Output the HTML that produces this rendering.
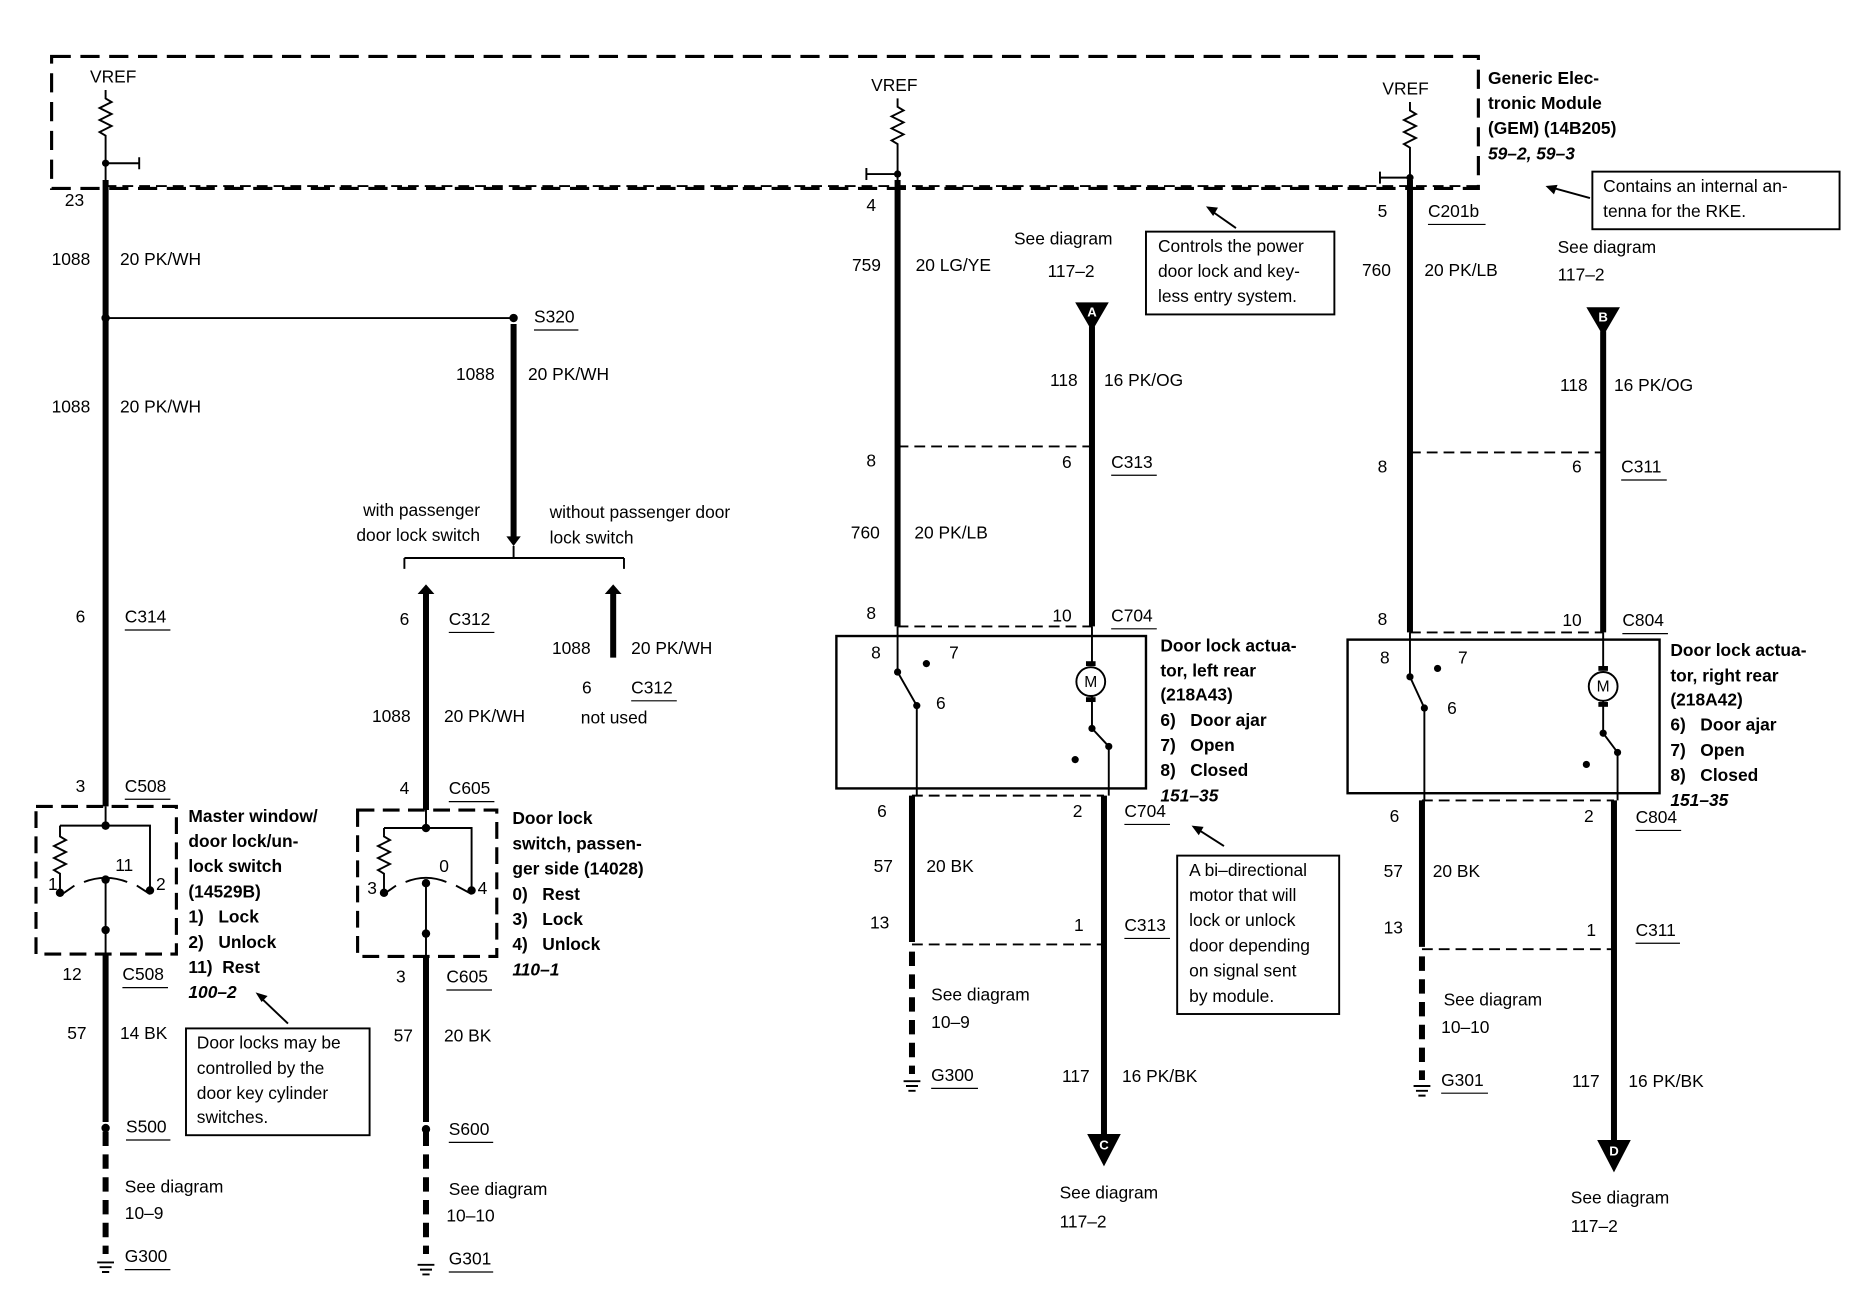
<!DOCTYPE html>
<html><head><meta charset="utf-8"><style>
html,body{margin:0;padding:0;background:#fff}
svg{display:block}
text{font-family:"Liberation Sans",sans-serif;font-size:14.5px;fill:#000;dominant-baseline:middle;white-space:pre}
.b{font-weight:bold}
.i{font-weight:bold;font-style:italic}
.w{stroke:#000;stroke-width:5;fill:none}
.n{stroke:#000;stroke-width:1.6;fill:none}
.d{stroke:#000;stroke-width:1.6;fill:none;stroke-dasharray:9 5}
.dw{stroke:#000;stroke-width:5;fill:none;stroke-dasharray:12 7}
.u{stroke:#000;stroke-width:1}
</style></head><body>
<svg width="1874" height="1312" viewBox="0 0 1561.7 1093.3" xmlns="http://www.w3.org/2000/svg">
<path d="M43 47 H1232 V157 H43 Z" stroke="#000" stroke-width="2.6" fill="none" stroke-dasharray="16 8"/>
<text x="75" y="65">VREF</text><text x="726" y="72">VREF</text><text x="1152" y="75">VREF</text>
<g class="n">
<path d="M88 75 V82 l5 3 -10 5 10 5 -10 5 10 5 -10 5 5 3 V150"/>
<path d="M748 82 V89 l5 3 -10 5 10 5 -10 5 10 5 -10 5 5 3 V150"/>
<path d="M1175 85 V92 l5 3 -10 5 10 5 -10 5 10 5 -10 5 5 3 V150"/>
<path d="M88 136 H116 M116 131 V141"/><path d="M748 145 H722 M722 140 V150"/><path d="M1175 148 H1150 M1150 143 V153"/>
</g>
<circle cx="88" cy="136" r="3"/><circle cx="748" cy="145" r="3"/><circle cx="1175" cy="148" r="3"/>
<text class="b" x="1240" y="66">Generic Elec-</text><text class="b" x="1240" y="87">tronic Module</text>
<text class="b" x="1240" y="108">(GEM) (14B205)</text><text class="i" x="1240" y="129">59–2, 59–3</text>
<rect x="1327" y="143" width="206" height="48" class="n"/>
<text x="1336" y="156">Contains an internal an-</text><text x="1336" y="177">tenna for the RKE.</text>
<path d="M1325 165 L1292 156" class="n"/><path d="M1288 155 l10 -1 -3 8z"/>

<path class="w" d="M88 150 V672 M88 795 V935"/>
<path class="dw" d="M88 943 V1045"/>
<path class="n" d="M88 265 H428"/><circle cx="88" cy="265" r="3.5"/><circle cx="428" cy="265" r="3.5"/>
<text x="54" y="168">23</text><text x="43" y="217">1088</text><text x="100" y="217">20 PK/WH</text>
<text x="445" y="265">S320</text><path class="u" d="M445 275 H482"/>
<text x="43" y="340">1088</text><text x="100" y="340">20 PK/WH</text>
<text x="63" y="515">6</text><text x="104" y="515">C314</text><path class="u" d="M104 525 H142"/>
<text x="63" y="656">3</text><text x="104" y="656">C508</text><path class="u" d="M104 666 H142"/>
<rect x="30" y="672" width="117" height="123" stroke="#000" stroke-width="2.6" fill="none" stroke-dasharray="14 7"/>
<g class="n"><path d="M88 672 V690 M50 688 H125 V740 M50 688 V697 l5 3 -10 5 10 5 -10 5 10 5 -10 5 5 3 V742 M88 735 V795"/>
<path d="M52 745 L62 738 M70 735 Q88 728 106 735 M114 738 L125 745"/></g>
<circle cx="88" cy="688" r="3.5"/><circle cx="50" cy="744" r="3.5"/><circle cx="125" cy="742" r="3.5"/><circle cx="88" cy="733" r="3.5"/><circle cx="88" cy="775" r="3.5"/>
<text x="40" y="738">1</text><text x="96" y="722">11</text><text x="130" y="738">2</text>
<text class="b" x="157" y="681">Master window/</text><text class="b" x="157" y="702">door lock/un-</text><text class="b" x="157" y="723">lock switch</text>
<text class="b" x="157" y="744">(14529B)</text><text class="b" x="157" y="765">1)   Lock</text><text class="b" x="157" y="786">2)   Unlock</text>
<text class="b" x="157" y="807">11)  Rest</text><text class="i" x="157" y="828">100–2</text>
<text x="52" y="813">12</text><text x="102" y="813">C508</text><path class="u" d="M102 823 H140"/>
<text x="56" y="862">57</text><text x="100" y="862">14 BK</text>
<rect x="155" y="857" width="153" height="89" class="n"/>
<text x="164" y="870">Door locks may be</text><text x="164" y="891">controlled by the</text><text x="164" y="912">door key cylinder</text><text x="164" y="932">switches.</text>
<path class="n" d="M240 853 L218 832"/><path d="M213 827 l10 3 -5 5z"/>
<circle cx="88" cy="940" r="3.5"/>
<text x="105" y="940">S500</text><path class="u" d="M105 950 H142"/>
<text x="104" y="990">See diagram</text><text x="104" y="1012">10–9</text>
<text x="104" y="1048">G300</text><path class="u" d="M104 1058 H142"/>
<path class="n" d="M81 1052 H95 M83 1056 H93 M85 1060 H91"/>

<path class="w" d="M428 270 V450"/><path d="M422 447 l6 8 6 -8z"/>
<text x="380" y="313">1088</text><text x="440" y="313">20 PK/WH</text>
<text x="400" y="426" text-anchor="end">with passenger</text><text x="400" y="447" text-anchor="end">door lock switch</text>
<text x="458" y="428">without passenger door</text><text x="458" y="449">lock switch</text>
<path class="n" d="M337 465 H520 M428 455 V465 M337 465 V474 M520 465 V474"/>
<path class="w" d="M355 492 V675 M355 797 V935 M511 492 V548"/>
<path d="M348 495 l7 -8 7 8z M504 495 l7 -8 7 8z"/>
<path class="dw" d="M355 943 V1045"/>
<text x="333" y="517">6</text><text x="374" y="517">C312</text><path class="u" d="M374 527 H412"/>
<text x="310" y="598">1088</text><text x="370" y="598">20 PK/WH</text>
<text x="460" y="541">1088</text><text x="526" y="541">20 PK/WH</text>
<text x="485" y="574">6</text><text x="526" y="574">C312</text><path class="u" d="M526 584 H564"/>
<text x="484" y="599">not used</text>
<text x="333" y="658">4</text><text x="374" y="658">C605</text><path class="u" d="M374 668 H412"/>
<rect x="298" y="675" width="116" height="122" stroke="#000" stroke-width="2.6" fill="none" stroke-dasharray="14 7"/>
<g class="n"><path d="M355 675 V690 M320 690 H393 V740 M320 690 V697 l5 3 -10 5 10 5 -10 5 10 5 -10 5 5 3 V742 M355 738 V797"/>
<path d="M320 745 L330 738 M338 735 Q355 728 372 735 M380 738 L393 745"/></g>
<circle cx="355" cy="690" r="3.5"/><circle cx="320" cy="744" r="3.5"/><circle cx="393" cy="742" r="3.5"/><circle cx="355" cy="736" r="3.5"/><circle cx="355" cy="778" r="3.5"/>
<text x="306" y="741">3</text><text x="366" y="723">0</text><text x="398" y="741">4</text>
<text class="b" x="427" y="683">Door lock</text><text class="b" x="427" y="704">switch, passen-</text><text class="b" x="427" y="725">ger side (14028)</text>
<text class="b" x="427" y="746">0)   Rest</text><text class="b" x="427" y="767">3)   Lock</text><text class="b" x="427" y="788">4)   Unlock</text><text class="i" x="427" y="809">110–1</text>
<text x="330" y="815">3</text><text x="372" y="815">C605</text><path class="u" d="M372 825 H410"/>
<text x="328" y="864">57</text><text x="370" y="864">20 BK</text>
<circle cx="355" cy="941" r="3.5"/>
<text x="374" y="942">S600</text><path class="u" d="M374 952 H411"/>
<text x="374" y="992">See diagram</text><text x="372" y="1014">10–10</text>
<text x="374" y="1050">G301</text><path class="u" d="M374 1060 H411"/>
<path class="n" d="M348 1054 H362 M350 1058 H360 M352 1062 H358"/>

<path class="d" d="M88 155 H1232"/>

<path class="w" d="M748 150 V522 M910 272 V522"/>
<path class="d" d="M748 372 H910 M748 522 H910"/>
<path d="M896 252 H924 L910 276Z"/><text x="910" y="261" text-anchor="middle" style="fill:#fff;font-size:11px;font-weight:bold">A</text>
<text x="722" y="172">4</text><text x="710" y="222">759</text><text x="763" y="222">20 LG/YE</text>
<text x="845" y="200">See diagram</text><text x="873" y="227">117–2</text>
<text x="875" y="318">118</text><text x="920" y="318">16 PK/OG</text>
<text x="722" y="385">8</text><text x="885" y="386">6</text><text x="926" y="386">C313</text><path class="u" d="M926 396 H964"/>
<text x="709" y="445">760</text><text x="762" y="445">20 PK/LB</text>
<text x="722" y="512">8</text><text x="877" y="514">10</text><text x="926" y="514">C704</text><path class="u" d="M926 524 H964"/>
<rect x="697" y="530" width="258" height="127" class="n" style="stroke-width:2"/>
<g class="n"><path d="M748 522 V560 L764 588 V663 M910 522 V552 M910 580 V607 L924 622 V663"/></g>
<circle cx="748" cy="560" r="3"/><circle cx="764" cy="588" r="3"/><circle cx="772" cy="553" r="3"/><circle cx="910" cy="607" r="3"/><circle cx="924" cy="622" r="3"/><circle cx="896" cy="633" r="3"/>
<circle cx="909" cy="568" r="12" class="n" style="fill:#fff"/><text x="909" y="569" text-anchor="middle" style="font-size:13px">M</text>
<rect x="905" y="551" width="8" height="4"/><rect x="905" y="581" width="8" height="4"/>
<text x="726" y="545">8</text><text x="791" y="545">7</text><text x="780" y="587">6</text>
<text class="b" x="967" y="539">Door lock actua-</text><text class="b" x="967" y="560">tor, left rear</text><text class="b" x="967" y="580">(218A43)</text>
<text class="b" x="967" y="601">6)   Door ajar</text><text class="b" x="967" y="622">7)   Open</text><text class="b" x="967" y="643">8)   Closed</text><text class="i" x="967" y="664">151–35</text>
<path class="d" d="M760 663 H920 M760 787 H920"/>
<path class="w" d="M760 663 V785 M920 663 V945"/>
<path class="dw" d="M760 793 V895"/>
<path d="M906 945 H934 L920 972Z"/><text x="920" y="955" text-anchor="middle" style="fill:#fff;font-size:11px;font-weight:bold">C</text>
<text x="731" y="677">6</text><text x="894" y="677">2</text><text x="937" y="677">C704</text><path class="u" d="M937 687 H975"/>
<text x="728" y="723">57</text><text x="772" y="723">20 BK</text>
<text x="725" y="770">13</text><text x="895" y="772">1</text><text x="937" y="772">C313</text><path class="u" d="M937 782 H975"/>
<text x="776" y="830">See diagram</text><text x="776" y="853">10–9</text>
<text x="776" y="897">G300</text><path class="u" d="M776 907 H815"/>
<path class="n" d="M753 901 H767 M755 905 H765 M757 909 H763"/>
<text x="885" y="898">117</text><text x="935" y="898">16 PK/BK</text>
<text x="883" y="995">See diagram</text><text x="883" y="1019">117–2</text>
<rect x="981" y="713" width="135" height="132" class="n"/>
<text x="991" y="726">A bi–directional</text><text x="991" y="747">motor that will</text><text x="991" y="768">lock or unlock</text>
<text x="991" y="789">door depending</text><text x="991" y="810">on signal sent</text><text x="991" y="831">by module.</text>
<path class="n" d="M1020 705 L998 691"/><path d="M993 688 l10 1 -4 7z"/>
<rect x="955" y="193" width="157" height="69" class="n"/>
<text x="965" y="206">Controls the power</text><text x="965" y="227">door lock and key-</text><text x="965" y="248">less entry system.</text>
<path class="n" d="M1030 190 L1010 176"/><path d="M1005 172 l10 1 -4 7z"/>

<path class="w" d="M1175 150 V527 M1336 276 V527"/>
<path class="d" d="M1175 377 H1336 M1175 527 H1336"/>
<path d="M1322 256 H1350 L1336 280Z"/><text x="1336" y="265" text-anchor="middle" style="fill:#fff;font-size:11px;font-weight:bold">B</text>
<text x="1148" y="177">5</text><text x="1190" y="177">C201b</text><path class="u" d="M1190 187 H1238"/>
<text x="1135" y="226">760</text><text x="1187" y="226">20 PK/LB</text>
<text x="1298" y="207">See diagram</text><text x="1298" y="230">117–2</text>
<text x="1300" y="322">118</text><text x="1345" y="322">16 PK/OG</text>
<text x="1148" y="390">8</text><text x="1310" y="390">6</text><text x="1351" y="390">C311</text><path class="u" d="M1351 400 H1389"/>
<text x="1148" y="517">8</text><text x="1302" y="518">10</text><text x="1352" y="518">C804</text><path class="u" d="M1352 528 H1390"/>
<rect x="1123" y="533" width="260" height="128" class="n" style="stroke-width:2"/>
<g class="n"><path d="M1175 527 V564 L1187 590 V667 M1336 527 V556 M1336 584 V611 L1348 627 V667"/></g>
<circle cx="1175" cy="564" r="3"/><circle cx="1187" cy="590" r="3"/><circle cx="1198" cy="557" r="3"/><circle cx="1336" cy="611" r="3"/><circle cx="1348" cy="627" r="3"/><circle cx="1322" cy="637" r="3"/>
<circle cx="1336" cy="572" r="12" class="n" style="fill:#fff"/><text x="1336" y="573" text-anchor="middle" style="font-size:13px">M</text>
<rect x="1332" y="555" width="8" height="4"/><rect x="1332" y="585" width="8" height="4"/>
<text x="1150" y="549">8</text><text x="1215" y="549">7</text><text x="1206" y="591">6</text>
<text class="b" x="1392" y="543">Door lock actua-</text><text class="b" x="1392" y="564">tor, right rear</text><text class="b" x="1392" y="584">(218A42)</text>
<text class="b" x="1392" y="605">6)   Door ajar</text><text class="b" x="1392" y="626">7)   Open</text><text class="b" x="1392" y="647">8)   Closed</text><text class="i" x="1392" y="668">151–35</text>
<path class="d" d="M1185 667 H1345 M1185 791 H1345"/>
<path class="w" d="M1185 667 V789 M1345 667 V950"/>
<path class="dw" d="M1185 797 V900"/>
<path d="M1331 950 H1359 L1345 977Z"/><text x="1345" y="960" text-anchor="middle" style="fill:#fff;font-size:11px;font-weight:bold">D</text>
<text x="1158" y="681">6</text><text x="1320" y="681">2</text><text x="1363" y="682">C804</text><path class="u" d="M1363 692 H1401"/>
<text x="1153" y="727">57</text><text x="1194" y="727">20 BK</text>
<text x="1153" y="774">13</text><text x="1322" y="776">1</text><text x="1363" y="776">C311</text><path class="u" d="M1363 786 H1400"/>
<text x="1203" y="834">See diagram</text><text x="1201" y="857">10–10</text>
<text x="1201" y="901">G301</text><path class="u" d="M1201 911 H1240"/>
<path class="n" d="M1178 905 H1192 M1180 909 H1190 M1182 913 H1188"/>
<text x="1310" y="902">117</text><text x="1357" y="902">16 PK/BK</text>
<text x="1309" y="999">See diagram</text><text x="1309" y="1023">117–2</text>
</svg>
</body></html>
